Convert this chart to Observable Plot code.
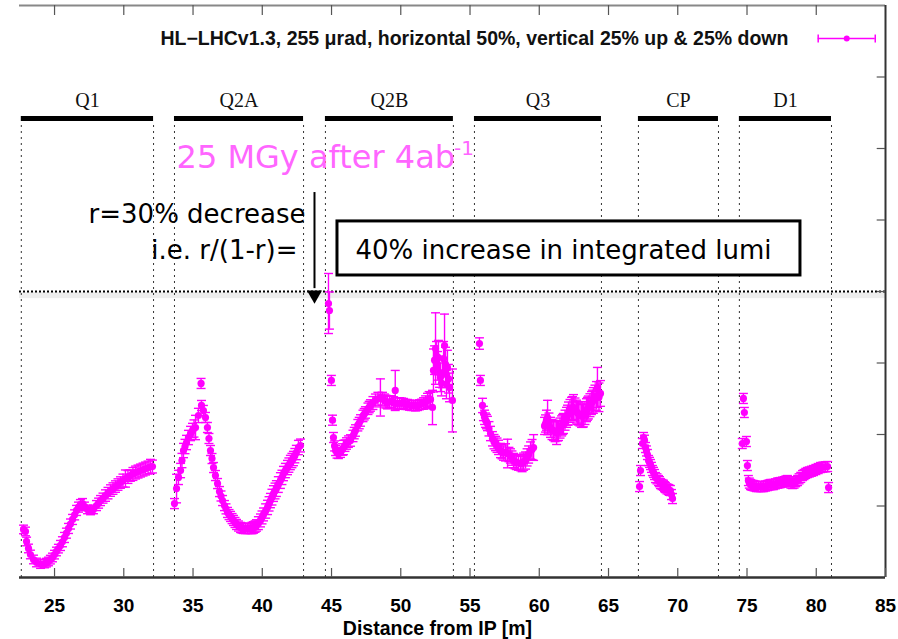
<!DOCTYPE html>
<html>
<head>
<meta charset="utf-8">
<script src="https://cdn.jsdelivr.net/npm/d3@7"></script>
<script src="https://cdn.jsdelivr.net/npm/@observablehq/plot@0.6"></script>
<style>
  html, body { margin: 0; padding: 0; background: #fff; }
  #chart svg { display: block; }
</style>
</head>
<body>
<div id="chart"></div>
<script>
// ---- data: [distance from IP (m), dose (MGy), error (MGy)] ----
const q1 = [
  [22.76, 8.36, .3], [22.90, 8.22, .3], [22.98, 7.52, .3], [23.12, 7.03, .3], [23.26, 6.61, .3],
  [23.48, 6.26, .3], [23.70, 6.05, .3], [23.99, 5.94, .3], [24.28, 5.98, .3], [24.42, 6.04, .3],
  [24.56, 6.12, .3], [24.70, 6.25, .3], [24.85, 6.40, .3], [25.00, 6.60, .3], [25.14, 6.82, .3],
  [25.28, 7.02, .3], [25.43, 7.24, .35], [25.57, 7.50, .35], [25.72, 7.80, .35], [25.86, 8.10, .35],
  [26.01, 8.43, .35], [26.15, 8.74, .35], [26.30, 9.06, .35], [26.45, 9.38, .35], [26.59, 9.69, .35],
  [26.73, 9.92, .35], [26.87, 10.10, .35], [27.02, 10.17, .35], [27.16, 9.97, .3], [27.38, 9.76, .3],
  [27.60, 9.69, .3], [27.81, 9.76, .3], [28.03, 10.03, .35], [28.18, 10.2, .35], [28.32, 10.38, .35],
  [28.50, 10.55, .35], [28.68, 10.73, .4], [28.86, 10.90, .4], [29.04, 11.08, .4], [29.22, 11.22, .4],
  [29.40, 11.36, .4], [29.58, 11.50, .4], [29.76, 11.64, .4], [29.94, 11.78, .45], [30.12, 11.92, .6],
  [30.30, 12.03, .45], [30.48, 12.13, .4], [30.66, 12.24, .45], [30.85, 12.34, .45], [31.03, 12.41, .45],
  [31.21, 12.48, .45], [31.39, 12.55, .45], [31.57, 12.62, .45], [31.75, 12.69, .45], [31.93, 12.76, .5],
  [32.07, 12.76, .45]
];
const q2a = [
  [33.66, 10.17, .35], [33.81, 11.22, 1.0], [33.95, 12.0, .5], [34.10, 12.48, .5], [34.20, 13.18, .5],
  [34.31, 13.88, .5], [34.42, 14.16, .5], [34.53, 14.44, .5], [34.67, 14.79, .5], [34.82, 15.07, .5],
  [34.96, 15.28, .5], [35.07, 15.42, .6], [35.18, 15.49, .85], [35.39, 16.33, .5], [35.58, 18.57, .35],
  [35.61, 17.03, .35], [35.75, 16.68, .35], [35.90, 16.19, .35], [36.04, 15.49, .35], [36.15, 14.72, .35],
  [36.26, 13.88, .35], [36.37, 13.32, .35], [36.48, 12.69, .35], [36.62, 12.13, .35], [36.77, 11.57, .35],
  [36.91, 11.01, .35], [37.02, 10.7, .35], [37.13, 10.38, .35], [37.27, 10.03, .35], [37.38, 9.8, .35],
  [37.49, 9.55, .35], [37.60, 9.4, .35], [37.71, 9.27, .35], [37.82, 9.12, .35], [37.92, 8.99, .35],
  [38.03, 8.85, .35], [38.14, 8.71, .35], [38.28, 8.6, .35], [38.43, 8.50, .35], [38.53, 8.46, .35],
  [38.64, 8.43, .35], [38.78, 8.42, .35], [38.93, 8.43, .35], [39.04, 8.43, .35], [39.15, 8.43, .35],
  [39.26, 8.46, .4], [39.37, 8.50, .4], [39.48, 8.56, .4], [39.58, 8.64, .4], [39.72, 8.8, .45],
  [39.87, 8.99, .45], [39.98, 9.2, .45], [40.09, 9.41, .45], [40.24, 9.65, .5], [40.38, 9.90, .5],
  [40.49, 10.15, .5], [40.59, 10.38, .5], [40.70, 10.62, .55], [40.81, 10.87, .55], [40.92, 11.05, .55],
  [41.02, 11.22, .55], [41.16, 11.5, .55], [41.31, 11.78, .55], [41.42, 12.0, .5], [41.53, 12.27, .5],
  [41.67, 12.48, .5], [41.82, 12.69, .5], [41.92, 12.86, .5], [42.03, 13.04, .5], [42.14, 13.18, .5],
  [42.25, 13.32, .5], [42.35, 13.52, .5], [42.46, 13.74, .5], [42.61, 14.09, .5], [42.76, 14.23, .45]
];
const q2b = [
  [44.78, 24.16, 2.1], [44.85, 23.67, 1.3], [44.99, 18.78, .35], [45.07, 16.0, .35], [45.14, 14.79, .35],
  [45.22, 14.2, .35], [45.29, 13.88, .35], [45.40, 13.7, .35], [45.50, 13.67, .35], [45.65, 13.75, .35],
  [45.79, 13.95, .4], [45.86, 14.09, .5], [45.97, 14.22, .4], [46.08, 14.37, .4], [46.22, 14.5, .4],
  [46.37, 14.58, .4], [46.55, 14.9, .4], [46.64, 15.1, .4], [46.73, 15.28, .4], [46.90, 15.65, .4],
  [47.00, 15.8, .4], [47.09, 15.98, .4], [47.27, 16.3, .4], [47.36, 16.42, .4], [47.45, 16.54, .4],
  [47.63, 16.8, .4], [47.72, 16.92, .4], [47.81, 17.03, .4], [47.99, 17.2, .45], [48.17, 17.38, .45],
  [48.35, 17.5, .45], [48.53, 17.59, 1.3], [48.68, 17.5, .45], [48.82, 17.38, .45], [48.93, 17.3, .45],
  [49.04, 17.24, .45], [49.19, 17.28, .4], [49.33, 17.31, .4], [49.48, 17.24, .4], [49.60, 18.08, 1.4],
  [49.62, 17.17, .4], [49.76, 17.17, .4], [49.91, 17.17, .4], [50.05, 17.2, .35], [50.20, 17.17, .35],
  [50.35, 17.1, .35], [50.49, 17.10, .35], [50.63, 17.05, .35], [50.77, 17.03, .35], [50.92, 17.03, .35],
  [51.06, 17.0, .35], [51.21, 17.03, .35], [51.35, 17.08, .35], [51.50, 17.12, .35], [51.64, 17.17, .4],
  [51.79, 17.25, .45], [51.93, 17.38, .5], [52.05, 17.5, .5], [52.15, 17.45, .5], [52.29, 16.89, 1.2],
  [52.36, 19.48, 1.5], [52.44, 20.2, 1.0], [52.51, 21.01, 2.5], [52.58, 20.5, 1.0], [52.65, 19.8, 1.0],
  [52.72, 20.38, 1.2], [52.80, 19.3, 1.0], [52.87, 19.0, 1.0], [52.94, 18.6, .9], [53.01, 19.27, 1.0],
  [53.09, 20.3, 1.2], [53.16, 21.22, 2.2], [53.23, 19.9, 1.2], [53.30, 18.5, 1.0], [53.37, 19.69, 1.2],
  [53.45, 18.9, 1.0], [53.52, 18.29, 1.0], [53.73, 17.38, 2.2]
];
const q3 = [
  [55.68, 21.36, .4], [55.75, 18.78, .35], [55.90, 17.03, .5], [55.97, 16.47, .5], [56.05, 16.2, .5],
  [56.12, 16.0, .5], [56.19, 15.9, .5], [56.26, 15.77, .5], [56.37, 15.4, .5], [56.48, 15.07, .5],
  [56.62, 14.7, .5], [56.73, 14.5, .5], [56.84, 14.37, .5], [56.95, 14.25, .5], [57.06, 14.1, .5],
  [57.20, 13.88, .5], [57.31, 13.8, .5], [57.42, 13.7, .5], [57.56, 13.75, .6], [57.71, 13.67, 1.0],
  [57.81, 13.6, .5], [57.92, 13.5, .5], [58.03, 13.35, .5], [58.14, 13.18, .5], [58.25, 13.1, .5],
  [58.36, 13.05, .5], [58.50, 13.0, .5], [58.65, 12.97, .5], [58.76, 13.0, .6], [58.87, 13.1, .6],
  [59.01, 13.18, .6], [59.12, 13.4, .6], [59.23, 13.6, .6], [59.37, 13.88, .6], [59.48, 13.95, .7],
  [59.59, 14.09, .9],
  [60.38, 15.6, .6], [60.45, 15.77, .6], [60.52, 16.0, .7], [60.60, 16.19, 1.2], [60.70, 15.8, .7],
  [60.81, 15.5, .7], [60.92, 15.35, .7], [61.03, 15.28, .7], [61.14, 15.2, .7], [61.25, 15.1, .8],
  [61.32, 15.25, .7], [61.39, 15.28, .7], [61.50, 15.45, .7], [61.61, 15.6, .7], [61.68, 15.7, .7],
  [61.75, 15.77, .7], [61.86, 16.0, .7], [61.97, 16.2, .7], [62.04, 16.35, .7], [62.11, 16.47, .8],
  [62.22, 16.65, .8], [62.33, 16.8, .8], [62.40, 16.85, .8], [62.47, 16.89, .9], [62.58, 16.75, .8],
  [62.69, 16.6, .8], [62.76, 16.5, .8], [62.83, 16.47, .8], [62.94, 16.4, .8], [63.05, 16.3, .8],
  [63.12, 16.3, .8], [63.19, 16.33, .8], [63.30, 16.5, .8], [63.41, 16.7, .8], [63.48, 16.8, .8],
  [63.55, 16.89, .8], [63.66, 17.05, .8], [63.77, 17.2, .8], [63.84, 17.3, .8], [63.91, 17.38, .9],
  [64.02, 17.55, .9], [64.13, 17.7, 1.0], [64.20, 18.29, 1.4], [64.31, 17.6, 1.0], [64.42, 17.87, .9]
];
const cp = [
  [67.24, 11.36, .35], [67.31, 12.48, .35], [67.45, 14.37, .35], [67.53, 14.79, .35], [67.60, 14.6, .35],
  [67.67, 14.09, .35], [67.74, 13.85, .35], [67.81, 13.6, .35], [67.89, 13.18, .35], [67.96, 13.05, .35],
  [68.03, 12.9, .35], [68.10, 12.7, .35], [68.17, 12.48, .35], [68.25, 12.35, .35], [68.32, 12.2, .35],
  [68.39, 11.99, .35], [68.50, 11.9, .35], [68.61, 11.78, .35], [68.68, 11.7, .35], [68.75, 11.57, .35],
  [68.86, 11.5, .35], [68.97, 11.45, .35], [69.04, 11.35, .35], [69.11, 11.29, .35], [69.22, 11.2, .35],
  [69.33, 11.15, .35], [69.40, 11.1, .35], [69.47, 11.08, .35], [69.55, 10.8, .35], [69.62, 10.52, .35]
];
const d1 = [
  [74.66, 14.37, .35], [74.74, 17.52, .35], [74.81, 16.54, .35], [74.96, 14.51, .35], [75.03, 12.83, .35],
  [75.10, 11.78, .35], [75.17, 11.6, .35], [75.25, 11.5, .35], [75.35, 11.45, .35], [75.46, 11.43, .35],
  [75.57, 11.4, .35], [75.68, 11.36, .35], [75.82, 11.36, .35], [75.97, 11.36, .35], [76.08, 11.36, .35],
  [76.20, 11.36, .35], [76.34, 11.4, .35], [76.48, 11.43, .35], [76.59, 11.47, .35], [76.70, 11.5, .35],
  [76.80, 11.5, .35], [76.91, 11.50, .35], [77.05, 11.55, .35], [77.20, 11.6, .35], [77.31, 11.62, .35],
  [77.42, 11.64, .35], [77.56, 11.67, .35], [77.70, 11.7, .35], [77.81, 11.75, .35], [77.92, 11.78, .35],
  [78.06, 11.7, .35], [78.17, 11.6, .35], [78.29, 11.57, .35], [78.40, 11.6, .35], [78.52, 11.7, .35],
  [78.65, 11.78, .35], [78.76, 11.9, .35], [78.88, 12.0, .35], [79.01, 12.13, .35], [79.12, 12.2, .35],
  [79.24, 12.28, .35], [79.37, 12.34, .35], [79.50, 12.38, .35], [79.65, 12.43, .35], [79.80, 12.48, .35],
  [79.97, 12.55, .35], [80.14, 12.62, .35], [80.31, 12.69, .35], [80.48, 12.72, .35], [80.65, 12.74, .35],
  [80.82, 12.76, .35], [80.89, 11.29, .35]
];

// magnets / elements
const magnetNames = ["Q1", "Q2A", "Q2B", "Q3", "CP", "D1"];
const magnetStart = [22.6, 33.66, 44.56, 55.32, 67.16, 74.45];
const magnetEnd   = [32.15, 42.98, 53.8, 64.49, 72.94, 81.1];

// axes
const xTicks = [25, 30, 35, 40, 45, 50, 55, 60, 65, 70, 75, 80, 85];
const yTicks = [10, 15, 20, 25, 30, 35, 40];
const doseLimit = 25;

// texts
const legendLabel = "HL\u2212LHCv1.3, 255 \u03bcrad, horizontal 50%, vertical 25% up & 25% down";
const xLabel = "Distance from IP [m]";
const noteTitle = "25 MGy after 4ab";
const noteTitleSup = "-1";
const noteLine1 = "r=30% decrease";
const noteLine2 = "i.e. r/(1-r)=";
const noteBox = "40% increase in integrated lumi";

// ---- build ----
const toRows = (arr) => arr.map(([x, y, e]) => ({x, y, e}));
const series = [q1, q2a, q2b, q3, cp, d1].flatMap(toRows);
const magnets = magnetNames.map((name, i) => ({name, x1: magnetStart[i], x2: magnetEnd[i]}));
const bounds = magnets.flatMap(m => [m.x1, m.x2]);

const MAG = "#ff00ff";
const capSymbol = {
  draw(ctx, size) { const w = Math.sqrt(size / Math.PI); ctx.moveTo(-w, 0); ctx.lineTo(w, 0); }
};
const vcapSymbol = {
  draw(ctx, size) { const w = Math.sqrt(size / Math.PI); ctx.moveTo(0, -w); ctx.lineTo(0, w); }
};

const SANS = "'DejaVu Sans', Verdana, sans-serif";
const HELV = "'Liberation Sans Narrow', 'Liberation Sans', Arial, sans-serif";
const SERIF = "'Liberation Serif', 'DejaVu Serif', serif";

const BAR_Y = 37.1;
const chart = Plot.plot({
  width: 898,
  height: 639,
  marginLeft: 19,
  marginRight: 13,
  marginTop: 5,
  marginBottom: 62,
  x: {domain: [22.47, 85]},
  y: {domain: [5, 45]},
  style: {background: "#fff", overflow: "visible"},
  marks: [
    // shadow under the limit line
    Plot.rect([0], {x1: 22.47, x2: 85, y1: 24.5, y2: 24.93, fill: "#eeeeee"}),
    // dotted vertical element boundaries
    Plot.ruleX(bounds, {x: d => d, y1: 5, y2: BAR_Y - 0.3, stroke: "#333", strokeWidth: 1, strokeDasharray: "2,4"}),
    // element bars and names
    Plot.ruleY(magnets, {y: BAR_Y, x1: "x1", x2: "x2", stroke: "#000", strokeWidth: 5}),
    Plot.text(magnets, {x: d => (d.x1 + d.x2) / 2, y: 38.33, text: "name", fontFamily: SERIF, fontSize: 20, fill: "#111"}),
    // 25 MGy limit
    Plot.ruleY([doseLimit], {stroke: "#000", strokeWidth: 2, strokeDasharray: "2,2"}),
    // frame
    Plot.ruleY([45], {stroke: "#888", strokeWidth: 2}),
    Plot.ruleY([5], {stroke: "#333", strokeWidth: 2.5}),
    Plot.ruleX([85], {stroke: "#333", strokeWidth: 2}),
    // inward ticks
    Plot.ruleX(xTicks, {x: d => d, y1: 5, y2: 5.63, stroke: "#555", strokeWidth: 1.2}),
    Plot.ruleX(xTicks.filter(t => t < 85), {x: d => d, y1: 45, y2: 44.3, stroke: "#555", strokeWidth: 1.2}),
    Plot.ruleY(yTicks, {y: d => d, x1: 85, x2: 84.4, stroke: "#555", strokeWidth: 1.2}),
    Plot.axisX(xTicks, {anchor: "bottom", tickSize: 0, tickPadding: 21, fontSize: 19, fontWeight: "bold", fontFamily: HELV, fill: "#000", label: null}),
    Plot.axisY([], {anchor: "left", tickSize: 0, label: null}),
    Plot.text([xLabel], {x: 52.65, y: 1.39, text: d => d, fontSize: 19.5, fontWeight: "bold", fontFamily: HELV, fill: "#000"}),
    // error bars
    Plot.ruleX(series, {x: "x", y1: d => d.y - d.e, y2: d => d.y + d.e, stroke: MAG, strokeWidth: 1.4}),
    Plot.dot(series, {x: "x", y: d => d.y - d.e, symbol: capSymbol, r: 4.5, stroke: MAG, strokeWidth: 1.4, fill: "none"}),
    Plot.dot(series, {x: "x", y: d => d.y + d.e, symbol: capSymbol, r: 4.5, stroke: MAG, strokeWidth: 1.4, fill: "none"}),
    Plot.dot(series, {x: "x", y: "y", r: 3.6, fill: MAG, stroke: "none"}),
    // legend
    Plot.text([legendLabel], {x: 77.99, y: 42.69, text: d => d, textAnchor: "end", fontSize: 19.5, fontWeight: "bold", fontFamily: HELV, fill: "#111"}),
    Plot.ruleY([42.69], {x1: 80.14, x2: 84.26, stroke: MAG, strokeWidth: 1.5}),
    Plot.dot([80.14, 84.26], {x: d => d, y: 42.69, symbol: vcapSymbol, r: 4, stroke: MAG, strokeWidth: 1.5}),
    Plot.dot([82.2], {x: d => d, y: 42.69, r: 3, fill: MAG}),
    // annotations
    Plot.text([noteTitle], {x: 33.81, y: 34.38, text: d => d, textAnchor: "start", fontSize: 32, fontFamily: SANS, fill: "#ff66ff"}),
    Plot.text([noteTitleSup], {x: 53.85, y: 35.0, text: d => d, textAnchor: "start", fontSize: 20, fontFamily: SANS, fill: "#ff66ff"}),
    Plot.text([noteLine1], {x: 43.12, y: 30.38, text: d => d, textAnchor: "end", fontSize: 26, fontFamily: SANS, fill: "#000"}),
    Plot.text([noteLine2], {x: 42.54, y: 27.87, text: d => d, textAnchor: "end", fontSize: 26, fontFamily: SANS, fill: "#000"}),
    Plot.rect([0], {x1: 45.43, x2: 78.86, y1: 26.12, y2: 29.90, fill: "#fff", stroke: "#000", strokeWidth: 3}),
    Plot.text([noteBox], {x: 46.73, y: 27.87, text: d => d, textAnchor: "start", fontSize: 26, fontFamily: SANS, fill: "#000"}),
    Plot.ruleX([43.77], {y1: 31.92, y2: 25.2, stroke: "#000", strokeWidth: 2}),
    Plot.dot([43.77], {x: d => d, y: 24.76, symbol: "triangle", rotate: 180, r: 5.6, fill: "#000", stroke: "none"})
  ]
});
document.getElementById("chart").appendChild(chart);
</script>
</body>
</html>
